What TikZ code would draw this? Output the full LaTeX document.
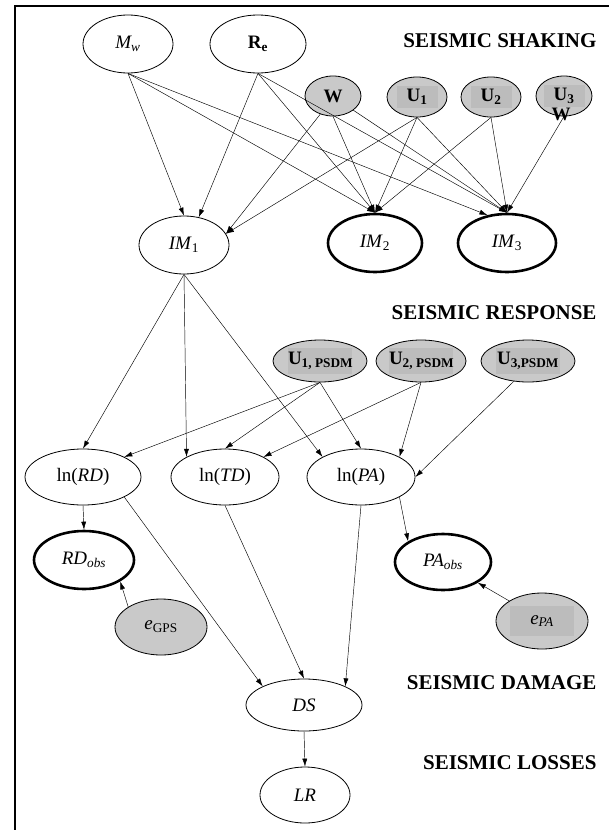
\documentclass[tikz,border=0pt]{standalone}
\usepackage{fontspec}
\setmainfont{Liberation Serif}
\usetikzlibrary{shapes.geometric,arrows.meta}
\definecolor{nodegray}{HTML}{C9C9C9}
\definecolor{boxgray}{HTML}{BCBCBC}
\newcommand{\gbox}[3]{\makebox[0pt]{\setlength{\fboxsep}{0pt}\colorbox{boxgray}{\parbox[c][#2][c]{#1}{\centering #3}}}}
\begin{document}
\begin{tikzpicture}[x=1pt,y=-1pt,
  var/.style={ellipse, draw, line width=0.8pt, inner sep=0pt, font=\fontsize{19}{22}\selectfont},
  obs/.style={var, line width=2.6pt},
  hid/.style={var, fill=nodegray},
  arr/.style={-{Latex[length=8pt,width=5pt]}, line width=0.45pt},
  stage/.style={anchor=east, font=\fontsize{21}{25}\selectfont\bfseries}]
\useasboundingbox (0,0) rectangle (609,830);
% Frame
\draw[line width=2.6pt] (15,840) |- (620,6);
% Seismic shaking
\node[var, minimum width=90pt, minimum height=58pt] (mw) at (128,44) {\textit{M\textsubscript{w}}};
\node[var, minimum width=96pt, minimum height=58pt] (re) at (258,44) {\textbf{R\textsubscript{e}}};
\node[hid, minimum width=56pt, minimum height=40pt] (w) at (333,96) {\textbf{W}};
\node[hid, minimum width=60pt, minimum height=40pt] (u1) at (417,97) {\gbox{41pt}{22pt}{\textbf{U\textsubscript{1}}}};
\node[hid, minimum width=60pt, minimum height=40pt] (u2) at (491,97) {\gbox{41pt}{22pt}{\textbf{U\textsubscript{2}}}};
\node[hid, minimum width=56pt, minimum height=40pt] (u3) at (564,96) {\gbox{41pt}{22pt}{\textbf{U\textsubscript{3}}}};
\node[font=\fontsize{19}{22}\selectfont\bfseries, inner sep=0pt] (u3w) at (561,114) {W};
\node[var, minimum width=90pt, minimum height=58pt] (im1) at (184,245) {\textit{IM}\textsubscript{1}};
\node[obs, minimum width=94pt, minimum height=58pt] (im2) at (375,243) {\textit{IM}\textsubscript{2}};
\node[obs, minimum width=98pt, minimum height=58pt] (im3) at (507,243) {\textit{IM}\textsubscript{3}};
% Seismic response
\node[hid, minimum width=94pt, minimum height=42pt] (u1p) at (320,361) {\gbox{64pt}{26pt}{\textbf{U\textsubscript{1, PSDM}}}};
\node[hid, minimum width=90pt, minimum height=42pt] (u2p) at (421,361) {\gbox{64pt}{26pt}{\textbf{U\textsubscript{2, PSDM}}}};
\node[hid, minimum width=94pt, minimum height=42pt] (u3p) at (528,361) {\gbox{64pt}{26pt}{\textbf{U\textsubscript{3,PSDM}}}};
\node[var, minimum width=116pt, minimum height=56pt] (lnrd) at (83,477) {ln(\textit{RD})};
\node[var, minimum width=108pt, minimum height=56pt] (lntd) at (225,477) {ln(\textit{TD})};
\node[var, minimum width=108pt, minimum height=56pt] (lnpa) at (361,477) {ln(\textit{PA})};
\node[obs, minimum width=100pt, minimum height=58pt] (rdobs) at (84,560) {\textit{RD\textsubscript{obs}}};
\node[obs, minimum width=96pt, minimum height=56pt] (paobs) at (443,562) {\textit{PA\textsubscript{obs}}};
\node[hid, minimum width=92pt, minimum height=56pt] (egps) at (161,627) {\textit{e}\textsubscript{GPS}};
\node[hid, minimum width=92pt, minimum height=56pt] (epa) at (542,621) {\gbox{64pt}{30pt}{\textit{e\textsubscript{PA}}}};
% Damage and losses
\node[var, minimum width=116pt, minimum height=52pt] (ds) at (304,705) {\textit{DS}};
\node[var, minimum width=90pt, minimum height=56pt] (lr) at (305,795) {\textit{LR}};
% Stage titles
\node[stage] (tshake) at (600,41) {SEISMIC SHAKING};
\node[stage] (tresp) at (600,313) {SEISMIC RESPONSE};
\node[stage] (tdam) at (600,683) {SEISMIC DAMAGE};
\node[stage] (tloss) at (600,763) {SEISMIC LOSSES};
% Arrows to intensity measures
\draw[arr] (mw.south) -- (im1.north);
\draw[arr] (mw.south) -- (im2.north);
\draw[arr] (mw.south) -- (im3.125);
\draw[arr] (re.south) -- (im1.62);
\draw[arr] (re.south) -- (im2.north);
\draw[arr] (re.south) -- (im3.north);
\draw[arr] (w.235) -- (im1.15);
\draw[arr] (w.south) -- (im2.north);
\draw[arr] (w.325) -- (im3.north);
\draw[arr] (u1.south) -- (im1.15);
\draw[arr] (u1.south) -- (im2.north);
\draw[arr] (u1.south) -- (im3.north);
\draw[arr] (u2.south) -- (im2.north);
\draw[arr] (u2.south) -- (im3.north);
\draw[arr] (u3.south) -- (im3.north);
% Arrows to response
\draw[arr] (im1.south) -- (lnrd.north);
\draw[arr] (im1.south) -- (lntd.north west);
\draw[arr] (im1.south) -- (lnpa.north west);
\draw[arr] (u1p.south) -- (lnrd.north east);
\draw[arr] (u1p.south) -- (lntd.north);
\draw[arr] (u1p.south) -- (lnpa.north);
\draw[arr] (u2p.south) -- (lntd.north east);
\draw[arr] (u2p.south) -- (lnpa.north east);
\draw[arr] (u3p.235) -- (lnpa.east);
% Observations
\draw[arr] (lnrd.south) -- (rdobs.north);
\draw[arr] (lnpa.south east) -- (paobs.north west);
\draw[arr] (egps.north west) -- (rdobs.south east);
\draw[arr] (epa.north west) -- (paobs.south east);
% Damage and losses
\draw[arr] (lnrd.south east) -- (ds.north west);
\draw[arr] (lntd.south) -- (ds.north);
\draw[arr] (lnpa.south) -- (ds.north east);
\draw[arr] (ds.south) -- (lr.north);
\end{tikzpicture}
\end{document}
